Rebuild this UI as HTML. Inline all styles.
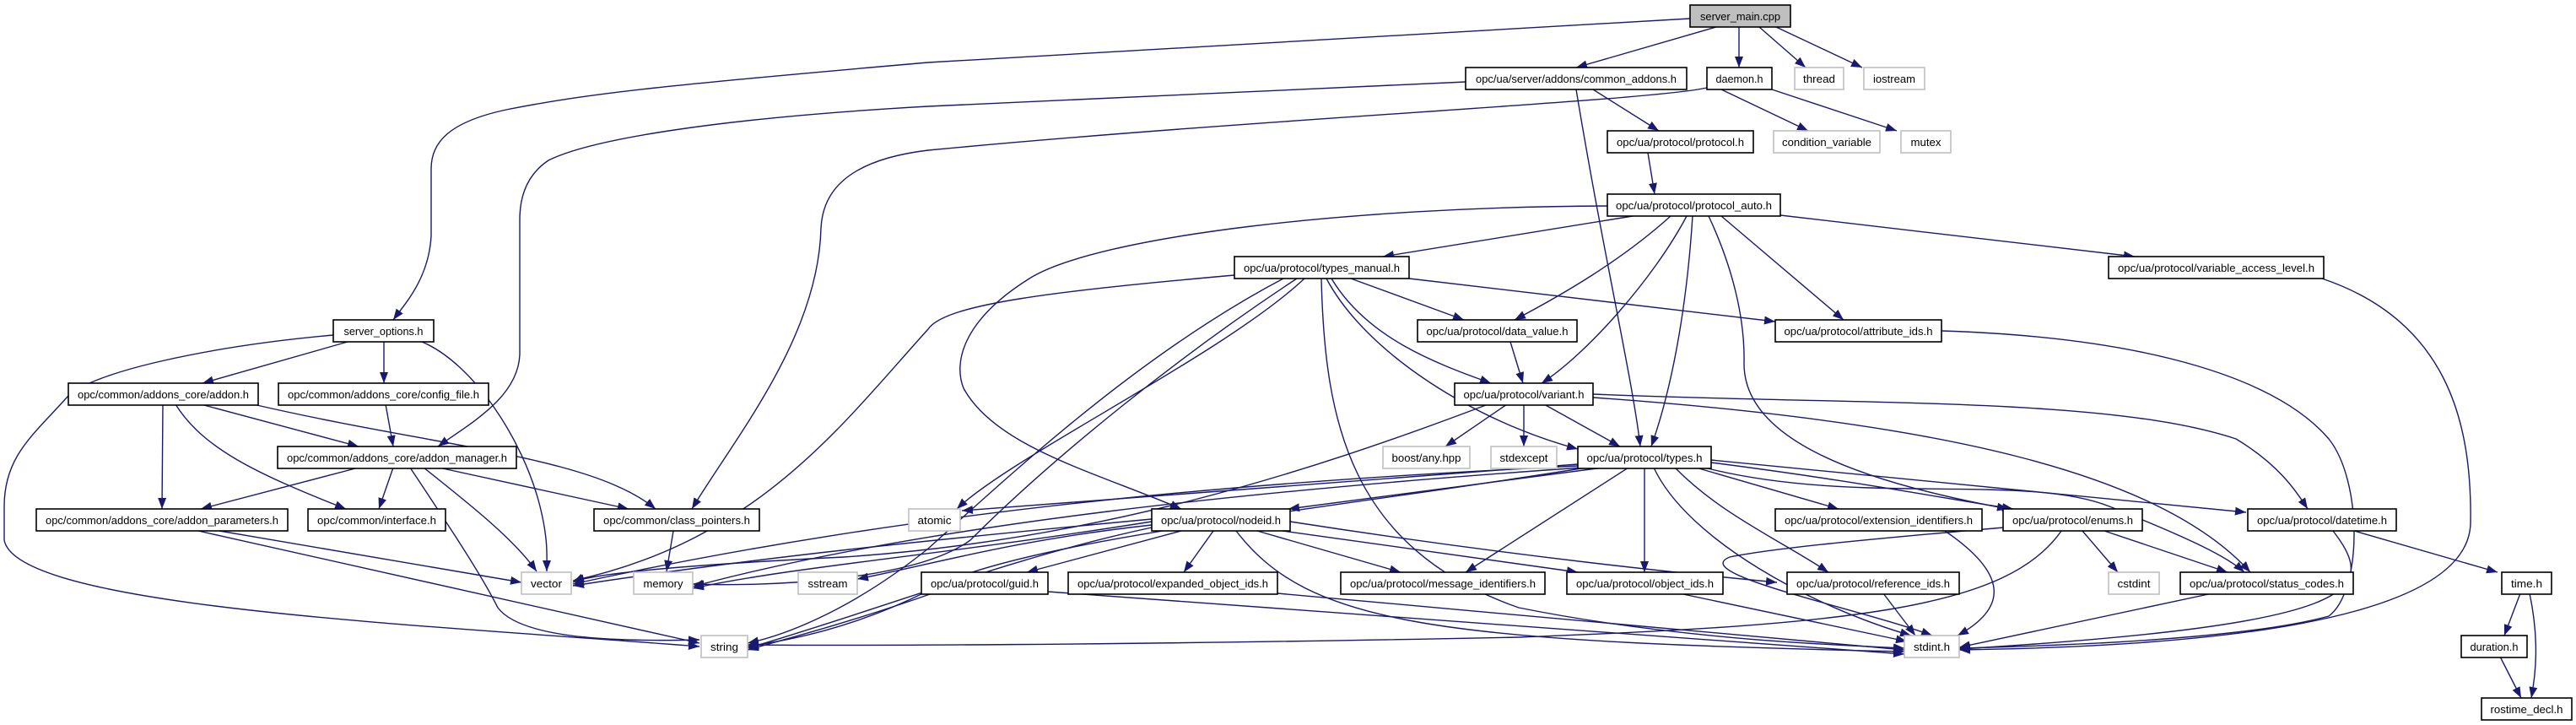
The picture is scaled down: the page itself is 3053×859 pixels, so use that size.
<!DOCTYPE html>
<html><head><meta charset="utf-8"><style>
html,body{margin:0;padding:0;background:#fff}
svg{display:block}
text{font-family:"Liberation Sans",sans-serif;font-size:13px;fill:#000}
.e{fill:none;stroke:#191970;stroke-width:1.4;marker-end:url(#a)}
.n{fill:#fff;stroke:#000;stroke-width:1.6}
.x{fill:#fff;stroke:#bfbfbf;stroke-width:1.6}
</style></head><body>
<svg width="3053" height="859" viewBox="0 0 3053 859" xmlns="http://www.w3.org/2000/svg">
<defs><marker id="a" markerUnits="userSpaceOnUse" markerWidth="14" markerHeight="10" refX="13" refY="5" orient="auto"><path d="M0,0 L13,5 L0,10 z" fill="#191970"/></marker></defs>
<g>
<path class="e" d="M2003,22 L1100,74 C800,100 700,110 600,130 C530,145 511,170 511,200 L511,280 C508,330 480,360 466,379"/>
<path class="e" d="M2034,32 L1868,80"/>
<path class="e" d="M2061,32 L2061,80"/>
<path class="e" d="M2085,32 L2140,80"/>
<path class="e" d="M2105,32 L2207,80"/>
<path class="e" d="M1737,97 L1100,126 C850,140 700,165 650,190 C620,210 616,240 616,260 L616,420 C614,470 560,500 519,529"/>
<path class="e" d="M1888,106 L1966,155"/>
<path class="e" d="M1868,106 C1900,300 1935,450 1944,529"/>
<path class="e" d="M2023,104 C1950,120 1500,140 1100,178 C1000,190 975,230 973,270 C970,400 870,520 820,603"/>
<path class="e" d="M2040,106 L2143,155"/>
<path class="e" d="M2100,106 L2248,155"/>
<path class="e" d="M1953,181 L1961,230"/>
<path class="e" d="M1935,256 L1639,304"/>
<path class="e" d="M1980,256 C1920,310 1850,350 1795,379"/>
<path class="e" d="M1999,256 C1960,330 1880,420 1827,454"/>
<path class="e" d="M2006,256 C2000,350 1985,450 1957,529"/>
<path class="e" d="M2025,256 C2055,320 2068,380 2067,430 C2066,520 2200,570 2380,603"/>
<path class="e" d="M2040,256 L2185,379"/>
<path class="e" d="M2110,255 L2530,304"/>
<path class="e" d="M1905,244 C1600,245 1300,280 1220,330 C1140,380 1130,430 1142,460 C1180,530 1300,560 1400,603"/>
<path class="e" d="M1463,326 C1250,345 1120,360 1100,390 C1000,500 900,640 679,688"/>
<path class="e" d="M1546,330 C1450,420 1200,540 1134,603"/>
<path class="e" d="M1537,330 C1400,420 1250,540 1150,640 C1080,690 900,695 821,692"/>
<path class="e" d="M1521,330 C1350,420 1200,560 1100,650 C1000,730 920,755 886,762"/>
<path class="e" d="M1566,330 C1570,500 1600,650 1800,720 C2000,760 2200,765 2257,768"/>
<path class="e" d="M1572,330 C1620,420 1750,500 1870,532"/>
<path class="e" d="M1578,330 C1620,400 1700,430 1767,454"/>
<path class="e" d="M1601,330 L1735,379"/>
<path class="e" d="M1670,330 L2104,381"/>
<path class="e" d="M1790,405 L1805,454"/>
<path class="e" d="M2301,392 C2550,400 2700,450 2760,520 C2800,570 2800,700 2760,730 C2650,760 2400,766 2322,768"/>
<path class="e" d="M2752,330 C2900,380 2930,500 2928,620 C2925,740 2600,766 2322,770"/>
<path class="e" d="M1786,479 L1713,529"/>
<path class="e" d="M1806,479 L1806,529"/>
<path class="e" d="M1830,479 L1920,529"/>
<path class="e" d="M1761,480 C1550,560 1300,640 1000,660 C800,670 700,680 679,690"/>
<path class="e" d="M1888,467 C2200,480 2500,470 2650,520 C2700,550 2720,580 2735,603"/>
<path class="e" d="M1888,471 C2300,500 2560,560 2667,678"/>
<path class="e" d="M1900,554 L1527,603"/>
<path class="e" d="M1930,554 L1737,678"/>
<path class="e" d="M1949,554 L1949,678"/>
<path class="e" d="M2010,554 L2179,603"/>
<path class="e" d="M2028,548 C2200,570 2300,590 2386,603"/>
<path class="e" d="M2028,545 C2300,570 2500,590 2662,607"/>
<path class="e" d="M2020,554 C2200,600 2400,560 2500,600 C2600,640 2640,660 2660,678"/>
<path class="e" d="M1985,554 C2040,610 2110,640 2167,678"/>
<path class="e" d="M1960,554 C2000,640 2150,720 2265,753"/>
<path class="e" d="M1870,550 L1140,605"/>
<path class="e" d="M1870,552 C1500,570 1100,600 679,692"/>
<path class="e" d="M1875,554 C1500,580 1100,620 821,695"/>
<path class="e" d="M1880,554 C1600,600 1200,640 1100,700 C1000,750 920,760 886,766"/>
<path class="e" d="M1400,629 L1217,678"/>
<path class="e" d="M1438,629 L1403,678"/>
<path class="e" d="M1490,629 L1660,678"/>
<path class="e" d="M1520,629 L1870,678"/>
<path class="e" d="M1529,618 C1800,660 2000,680 2106,690"/>
<path class="e" d="M1465,629 C1550,740 1700,760 2257,772"/>
<path class="e" d="M1365,622 C1200,640 1100,670 1016,686"/>
<path class="e" d="M1365,615 C1100,640 900,660 679,694"/>
<path class="e" d="M1365,618 C1100,660 950,670 821,697"/>
<path class="e" d="M1365,625 C1200,660 1050,720 886,768"/>
<path class="e" d="M1105,703 C1000,740 920,760 886,770"/>
<path class="e" d="M1242,701 L2257,775"/>
<path class="e" d="M1514,703 L2257,770"/>
<path class="e" d="M1990,703 L2260,760"/>
<path class="e" d="M2232,703 L2270,753"/>
<path class="e" d="M2305,629 C2380,680 2380,720 2320,753"/>
<path class="e" d="M2443,629 C2380,720 2200,740 1800,755 C1300,765 1000,765 886,764"/>
<path class="e" d="M2375,625 C2200,640 2100,650 2050,660 C2000,680 2200,720 2290,753"/>
<path class="e" d="M2468,629 L2510,678"/>
<path class="e" d="M2494,629 L2640,678"/>
<path class="e" d="M2622,703 L2322,767"/>
<path class="e" d="M2765,629 C2820,700 2800,740 2322,769"/>
<path class="e" d="M2790,629 L2960,678"/>
<path class="e" d="M2987,703 L2968,753"/>
<path class="e" d="M2998,703 C3010,760 3005,800 3000,827"/>
<path class="e" d="M2963,778 L2988,827"/>
<path class="e" d="M412,405 L240,454"/>
<path class="e" d="M455,405 L455,454"/>
<path class="e" d="M500,405 C560,430 620,520 640,600 C650,640 648,660 648,677"/>
<path class="e" d="M395,397 C250,410 110,440 80,470 C40,515 5,540 5,600 L5,640 C20,720 500,740 829,766"/>
<path class="e" d="M193,479 L192,603"/>
<path class="e" d="M208,479 C240,530 300,560 410,603"/>
<path class="e" d="M238,479 L425,529"/>
<path class="e" d="M300,479 C520,530 700,540 777,603"/>
<path class="e" d="M457,479 L466,529"/>
<path class="e" d="M425,554 L238,603"/>
<path class="e" d="M466,554 L449,603"/>
<path class="e" d="M520,554 L745,603"/>
<path class="e" d="M502,554 C560,600 610,640 636,677"/>
<path class="e" d="M486,554 C530,620 570,680 590,720 C620,760 750,760 829,758"/>
<path class="e" d="M260,629 L618,690"/>
<path class="e" d="M235,629 L829,762"/>
<path class="e" d="M798,629 L790,677"/>
</g>
<g>
<rect x="2003" y="6" width="119" height="26" fill="#bfbfbf" stroke="#000" stroke-width="1.6"/><text x="2062.5" y="24" text-anchor="middle" textLength="95" lengthAdjust="spacingAndGlyphs">server_main.cpp</text>
<rect class="n" x="1737" y="80" width="262" height="26"/><text x="1868" y="98" text-anchor="middle" textLength="238" lengthAdjust="spacingAndGlyphs">opc/ua/server/addons/common_addons.h</text>
<rect class="n" x="2023" y="80" width="77" height="26"/><text x="2061.5" y="98" text-anchor="middle" textLength="56" lengthAdjust="spacingAndGlyphs">daemon.h</text>
<rect class="x" x="2127" y="80" width="58" height="26"/><text x="2156" y="98" text-anchor="middle" textLength="38" lengthAdjust="spacingAndGlyphs">thread</text>
<rect class="x" x="2209" y="80" width="72" height="26"/><text x="2245" y="98" text-anchor="middle" textLength="50" lengthAdjust="spacingAndGlyphs">iostream</text>
<rect class="n" x="1905" y="155" width="173" height="26"/><text x="1991.5" y="173" text-anchor="middle" textLength="151" lengthAdjust="spacingAndGlyphs">opc/ua/protocol/protocol.h</text>
<rect class="x" x="2102" y="155" width="126" height="26"/><text x="2165" y="173" text-anchor="middle" textLength="106" lengthAdjust="spacingAndGlyphs">condition_variable</text>
<rect class="x" x="2253" y="155" width="59" height="26"/><text x="2282.5" y="173" text-anchor="middle" textLength="36" lengthAdjust="spacingAndGlyphs">mutex</text>
<rect class="n" x="1905" y="230" width="205" height="26"/><text x="2007.5" y="248" text-anchor="middle" textLength="185" lengthAdjust="spacingAndGlyphs">opc/ua/protocol/protocol_auto.h</text>
<rect class="n" x="1463" y="304" width="207" height="26"/><text x="1566.5" y="322" text-anchor="middle" textLength="185" lengthAdjust="spacingAndGlyphs">opc/ua/protocol/types_manual.h</text>
<rect class="n" x="2499" y="304" width="255" height="26"/><text x="2626.5" y="322" text-anchor="middle" textLength="233" lengthAdjust="spacingAndGlyphs">opc/ua/protocol/variable_access_level.h</text>
<rect class="n" x="395" y="379" width="119" height="26"/><text x="454.5" y="397" text-anchor="middle" textLength="94" lengthAdjust="spacingAndGlyphs">server_options.h</text>
<rect class="n" x="1680" y="379" width="189" height="26"/><text x="1774.5" y="397" text-anchor="middle" textLength="168" lengthAdjust="spacingAndGlyphs">opc/ua/protocol/data_value.h</text>
<rect class="n" x="2104" y="379" width="197" height="26"/><text x="2202.5" y="397" text-anchor="middle" textLength="176" lengthAdjust="spacingAndGlyphs">opc/ua/protocol/attribute_ids.h</text>
<rect class="n" x="81" y="454" width="225" height="26"/><text x="193.5" y="472" text-anchor="middle" textLength="203" lengthAdjust="spacingAndGlyphs">opc/common/addons_core/addon.h</text>
<rect class="n" x="330" y="454" width="249" height="26"/><text x="454.5" y="472" text-anchor="middle" textLength="227" lengthAdjust="spacingAndGlyphs">opc/common/addons_core/config_file.h</text>
<rect class="n" x="1724" y="454" width="164" height="26"/><text x="1806" y="472" text-anchor="middle" textLength="143" lengthAdjust="spacingAndGlyphs">opc/ua/protocol/variant.h</text>
<rect class="n" x="329" y="529" width="283" height="26"/><text x="470.5" y="547" text-anchor="middle" textLength="261" lengthAdjust="spacingAndGlyphs">opc/common/addons_core/addon_manager.h</text>
<rect class="x" x="1639" y="529" width="103" height="26"/><text x="1690.5" y="547" text-anchor="middle" textLength="82" lengthAdjust="spacingAndGlyphs">boost/any.hpp</text>
<rect class="x" x="1767" y="529" width="78" height="26"/><text x="1806" y="547" text-anchor="middle" textLength="57" lengthAdjust="spacingAndGlyphs">stdexcept</text>
<rect class="n" x="1870" y="529" width="158" height="26"/><text x="1949" y="547" text-anchor="middle" textLength="137" lengthAdjust="spacingAndGlyphs">opc/ua/protocol/types.h</text>
<rect class="n" x="43" y="603" width="298" height="26"/><text x="192" y="621" text-anchor="middle" textLength="276" lengthAdjust="spacingAndGlyphs">opc/common/addons_core/addon_parameters.h</text>
<rect class="n" x="365" y="603" width="163" height="26"/><text x="446.5" y="621" text-anchor="middle" textLength="141" lengthAdjust="spacingAndGlyphs">opc/common/interface.h</text>
<rect class="n" x="704" y="603" width="196" height="26"/><text x="802" y="621" text-anchor="middle" textLength="174" lengthAdjust="spacingAndGlyphs">opc/common/class_pointers.h</text>
<rect class="x" x="1077" y="603" width="61" height="26"/><text x="1107.5" y="621" text-anchor="middle" textLength="40" lengthAdjust="spacingAndGlyphs">atomic</text>
<rect class="n" x="1365" y="603" width="164" height="26"/><text x="1447" y="621" text-anchor="middle" textLength="142" lengthAdjust="spacingAndGlyphs">opc/ua/protocol/nodeid.h</text>
<rect class="n" x="2104" y="603" width="245" height="26"/><text x="2226.5" y="621" text-anchor="middle" textLength="223" lengthAdjust="spacingAndGlyphs">opc/ua/protocol/extension_identifiers.h</text>
<rect class="n" x="2374" y="603" width="165" height="26"/><text x="2456.5" y="621" text-anchor="middle" textLength="143" lengthAdjust="spacingAndGlyphs">opc/ua/protocol/enums.h</text>
<rect class="n" x="2664" y="603" width="176" height="26"/><text x="2752" y="621" text-anchor="middle" textLength="154" lengthAdjust="spacingAndGlyphs">opc/ua/protocol/datetime.h</text>
<rect class="x" x="618" y="678" width="59" height="26"/><text x="647.5" y="696" text-anchor="middle" textLength="37" lengthAdjust="spacingAndGlyphs">vector</text>
<rect class="x" x="751" y="678" width="70" height="26"/><text x="786" y="696" text-anchor="middle" textLength="47" lengthAdjust="spacingAndGlyphs">memory</text>
<rect class="x" x="946" y="678" width="70" height="26"/><text x="981" y="696" text-anchor="middle" textLength="47" lengthAdjust="spacingAndGlyphs">sstream</text>
<rect class="n" x="1092" y="678" width="150" height="26"/><text x="1167" y="696" text-anchor="middle" textLength="128" lengthAdjust="spacingAndGlyphs">opc/ua/protocol/guid.h</text>
<rect class="n" x="1266" y="678" width="248" height="26"/><text x="1390" y="696" text-anchor="middle" textLength="226" lengthAdjust="spacingAndGlyphs">opc/ua/protocol/expanded_object_ids.h</text>
<rect class="n" x="1589" y="678" width="242" height="26"/><text x="1710" y="696" text-anchor="middle" textLength="220" lengthAdjust="spacingAndGlyphs">opc/ua/protocol/message_identifiers.h</text>
<rect class="n" x="1857" y="678" width="185" height="26"/><text x="1949.5" y="696" text-anchor="middle" textLength="163" lengthAdjust="spacingAndGlyphs">opc/ua/protocol/object_ids.h</text>
<rect class="n" x="2118" y="678" width="204" height="26"/><text x="2220" y="696" text-anchor="middle" textLength="182" lengthAdjust="spacingAndGlyphs">opc/ua/protocol/reference_ids.h</text>
<rect class="x" x="2499" y="678" width="60" height="26"/><text x="2529" y="696" text-anchor="middle" textLength="39" lengthAdjust="spacingAndGlyphs">cstdint</text>
<rect class="n" x="2584" y="678" width="205" height="26"/><text x="2686.5" y="696" text-anchor="middle" textLength="183" lengthAdjust="spacingAndGlyphs">opc/ua/protocol/status_codes.h</text>
<rect class="n" x="2965" y="678" width="59" height="26"/><text x="2994.5" y="696" text-anchor="middle" textLength="37" lengthAdjust="spacingAndGlyphs">time.h</text>
<rect class="x" x="831" y="753" width="55" height="26"/><text x="858.5" y="771" text-anchor="middle" textLength="33" lengthAdjust="spacingAndGlyphs">string</text>
<rect class="x" x="2257" y="753" width="65" height="26"/><text x="2289.5" y="771" text-anchor="middle" textLength="43" lengthAdjust="spacingAndGlyphs">stdint.h</text>
<rect class="n" x="2917" y="753" width="78" height="26"/><text x="2956" y="771" text-anchor="middle" textLength="57" lengthAdjust="spacingAndGlyphs">duration.h</text>
<rect class="n" x="2941" y="827" width="107" height="26"/><text x="2994.5" y="845" text-anchor="middle" textLength="86" lengthAdjust="spacingAndGlyphs">rostime_decl.h</text>
</g>
</svg>
</body></html>
